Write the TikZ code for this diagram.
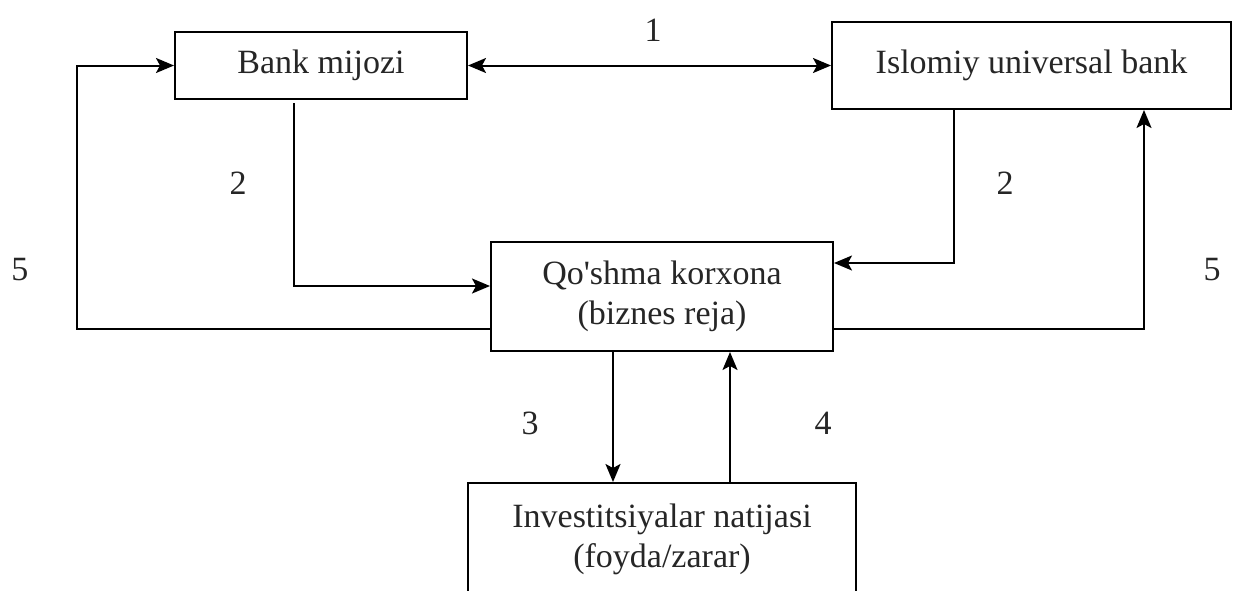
\documentclass[tikz,border=0pt]{standalone}
\usepackage{fontspec}
\setmainfont{Liberation Serif}
\usetikzlibrary{arrows.meta,calc}
\begin{document}
\begin{tikzpicture}[x=1pt,y=-1pt,
  box/.style={draw=black,line width=2pt,inner sep=0pt,align=center,text=black!85,
    font=\fontsize{34}{40}\selectfont},
  lab/.style={inner sep=0pt,text=black!85,font=\fontsize{34}{40}\selectfont},
  arr/.style={line width=2pt,-{Stealth[length=18pt,width=15pt,inset=4pt]}},
  darr/.style={line width=2pt,{Stealth[length=18pt,width=15pt,inset=4pt]}-{Stealth[length=18pt,width=15pt,inset=4pt]}}]
\useasboundingbox (0,0) rectangle (1237,590);
\clip (0,0) rectangle (1237,590);
\fill[white] (0,0) rectangle (1237,590);
\node[box,minimum width=292pt,minimum height=67pt] (bm) at (321,65.5) {Bank mijozi};
\node[box,minimum width=399pt,minimum height=87pt] (ib) at (1031.5,65.5) {Islomiy universal bank};
\node[box,minimum width=342pt,minimum height=109pt] (qk) at (662,296.5) {Qo\textquotesingle shma korxona\\(biznes reja)};
\node[box,minimum width=388pt,minimum height=112pt] (inv) at (662,539) {Investitsiyalar natijasi\\(foyda/zarar)};
\node[lab] (l1) at (653,30) {1};
\node[lab] (l2a) at (238,183) {2};
\node[lab] (l2b) at (1005,183) {2};
\node[lab] (l5a) at (20,270) {5};
\node[lab] (l5b) at (1212,270) {5};
\node[lab] (l3) at (530,423) {3};
\node[lab] (l4) at (823,423) {4};
\draw[darr] (bm.east) -- (ib.west);
\draw[arr] ([yshift=-3pt]bm.south -| 294,0) |- (qk.west |- 0,286);
\draw[arr] (ib.south -| 954,0) |- (qk.east |- 0,263);
\draw[arr] (qk.west |- 0,329) -| ([xshift=-97pt]bm.west) -- (bm.west);
\draw[arr] (qk.east |- 0,329) -| (ib.south -| 1144,0);
\draw[arr] (qk.south -| 613,0) -- (inv.north -| 613,0);
\draw[arr] (inv.north -| 730,0) -- (qk.south -| 730,0);
\end{tikzpicture}
\end{document}
